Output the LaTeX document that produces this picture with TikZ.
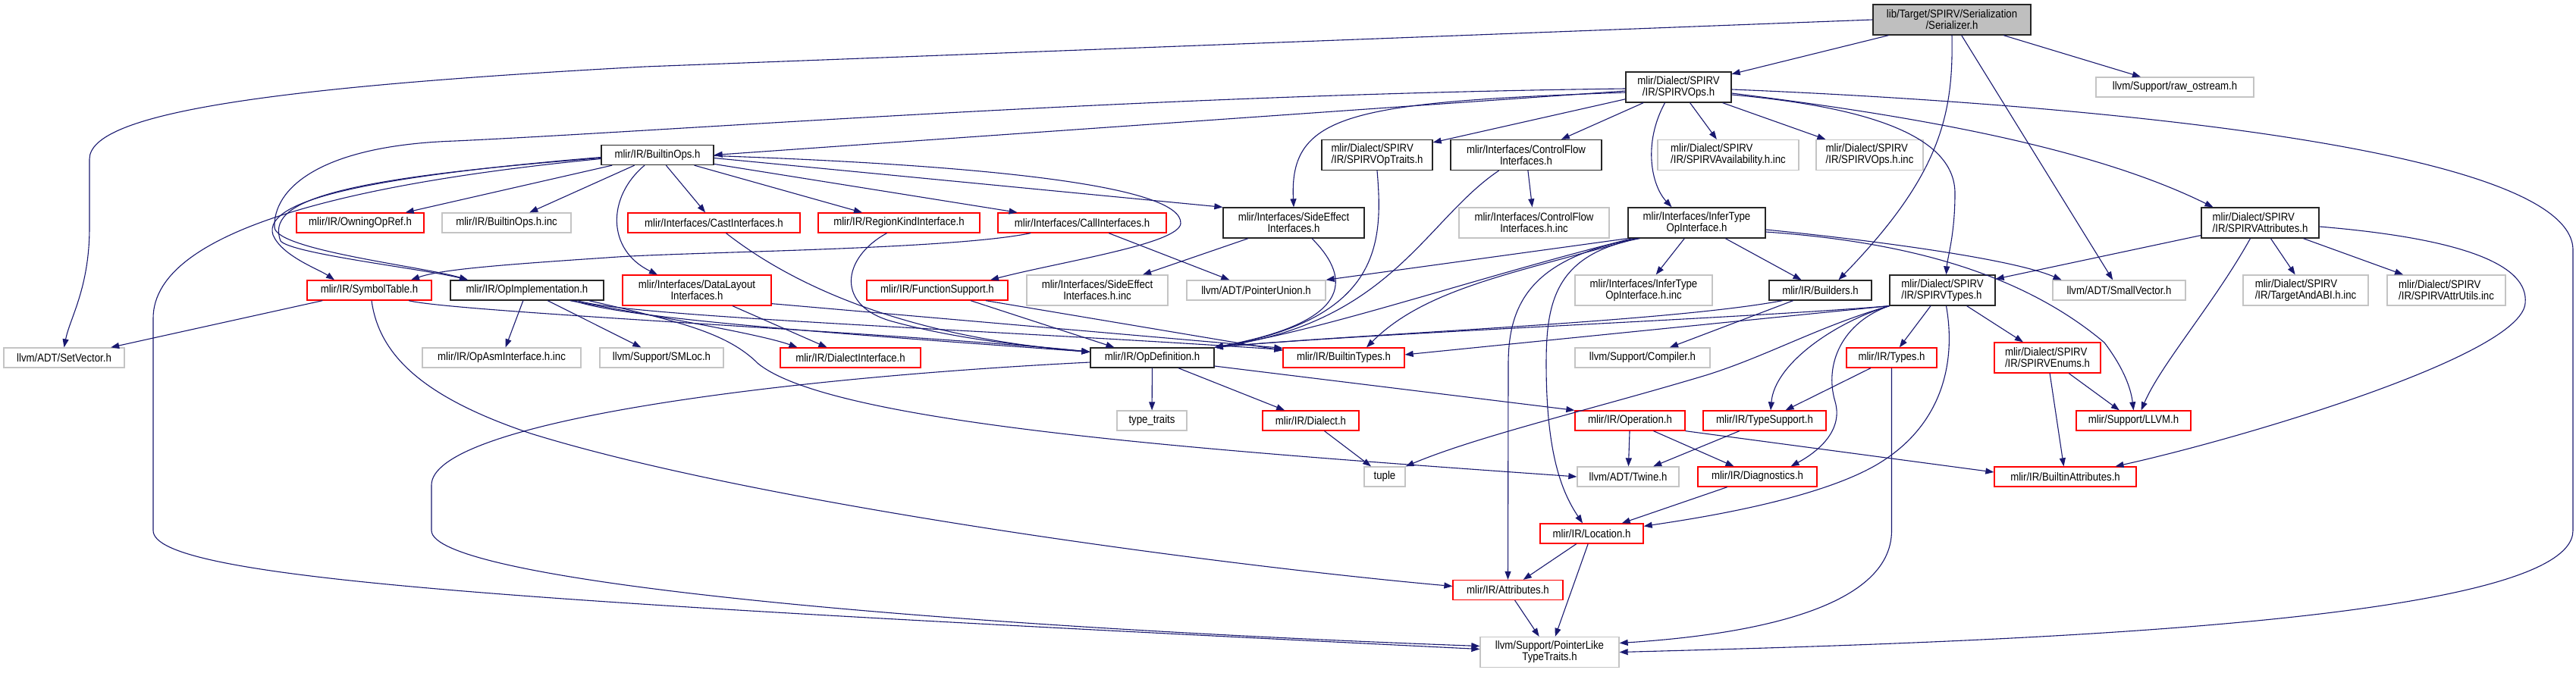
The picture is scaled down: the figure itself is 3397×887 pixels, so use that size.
\documentclass[tikz,border=0pt]{standalone}
\usepackage{fontspec}
\setmainfont{Liberation Sans}[FakeStretch=0.88]
\usetikzlibrary{arrows.meta}
\definecolor{edgeblue}{HTML}{191970}
\definecolor{rootgray}{HTML}{BFBFBF}
\definecolor{extgray}{HTML}{C4C4C4}
\newcommand{\hdrsize}{\fontsize{15}{15.2}\selectfont}

\begin{document}
\begin{tikzpicture}[x=1pt,y=-1pt,
  hfile/.style={draw,rectangle,inner sep=0pt,minimum height=26pt,align=center,font=\hdrsize,line width=1.3pt},
  tall/.style={minimum height=40pt},
  wd/.style={minimum width=#1pt},
  kfile/.style={hfile,draw=black!85},
  tfile/.style={hfile,draw=red},
  xfile/.style={hfile,draw=extgray},
  rootfile/.style={hfile,draw=black!85,fill=rootgray},
  incl/.style={draw=edgeblue,line width=1.1pt,-{Triangle[length=11pt,width=8pt]}}]
  \fill[white] (0,0) rectangle (3397,887);
  \useasboundingbox (0,0) rectangle (3397,887);

  \node[rootfile,tall,wd=208] (ser) at (2574,26) {lib/Target/SPIRV/Serialization\\/Serializer.h};
  \node[kfile,tall,wd=139] (ops) at (2213.5,115) {mlir/Dialect/SPIRV\\/IR/SPIRVOps.h};
  \node[xfile,wd=208] (raw) at (2868,115) {llvm/Support/raw\_ostream.h};
  \node[kfile,wd=148] (bops) at (867,204.5) {mlir/IR/BuiltinOps.h};
  \node[kfile,tall,wd=146,align=left] (traits) at (1816,204.5) {mlir/Dialect/SPIRV\\/IR/SPIRVOpTraits.h};
  \node[kfile,tall,wd=199] (cf) at (2012.5,204.5) {mlir/Interfaces/ControlFlow\\Interfaces.h};
  \node[xfile,tall,wd=186,align=left] (avail) at (2279,204.5) {mlir/Dialect/SPIRV\\/IR/SPIRVAvailability.h.inc};
  \node[xfile,tall,wd=141,align=left] (opsinc) at (2465.5,204.5) {mlir/Dialect/SPIRV\\/IR/SPIRVOps.h.inc};
  \node[tfile,wd=168] (owning) at (475,294) {mlir/IR/OwningOpRef.h};
  \node[xfile,wd=170] (bopsinc) at (668,294) {mlir/IR/BuiltinOps.h.inc};
  \node[tfile,wd=227] (cast) at (941.5,294) {mlir/Interfaces/CastInterfaces.h};
  \node[tfile,wd=213] (rk) at (1185.5,294) {mlir/IR/RegionKindInterface.h};
  \node[tfile,wd=222] (call) at (1427,294) {mlir/Interfaces/CallInterfaces.h};
  \node[kfile,tall,wd=186] (se) at (1706,294) {mlir/Interfaces/SideEffect\\Interfaces.h};
  \node[xfile,tall,wd=198] (cfinc) at (2023,294) {mlir/Interfaces/ControlFlow\\Interfaces.h.inc};
  \node[kfile,tall,wd=181] (inf) at (2237.5,294) {mlir/Interfaces/InferType\\OpInterface.h};
  \node[kfile,tall,wd=155,align=left] (spa) at (2980.5,294) {mlir/Dialect/SPIRV\\/IR/SPIRVAttributes.h};
  \node[tfile,wd=164] (st) at (487,383) {mlir/IR/SymbolTable.h};
  \node[kfile,wd=202] (oi) at (695,383) {mlir/IR/OpImplementation.h};
  \node[tfile,tall,wd=196] (dl) at (919,383) {mlir/Interfaces/DataLayout\\Interfaces.h};
  \node[tfile,wd=186] (fs) at (1236,383) {mlir/IR/FunctionSupport.h};
  \node[xfile,tall,wd=186] (seinc) at (1447,383) {mlir/Interfaces/SideEffect\\Interfaces.h.inc};
  \node[xfile,wd=183] (pu) at (1656.5,383) {llvm/ADT/PointerUnion.h};
  \node[xfile,tall,wd=181] (infinc) at (2167.5,383) {mlir/Interfaces/InferType\\OpInterface.h.inc};
  \node[kfile,wd=135] (bld) at (2400.5,383) {mlir/IR/Builders.h};
  \node[kfile,tall,wd=139,align=left] (spt) at (2561.5,383) {mlir/Dialect/SPIRV\\/IR/SPIRVTypes.h};
  \node[xfile,wd=175] (sv) at (2794.5,383) {llvm/ADT/SmallVector.h};
  \node[xfile,tall,wd=165,align=left] (abi) at (3040.5,383) {mlir/Dialect/SPIRV\\/IR/TargetAndABI.h.inc};
  \node[xfile,tall,wd=156,align=left] (autils) at (3226,383) {mlir/Dialect/SPIRV\\/IR/SPIRVAttrUtils.inc};
  \node[xfile,wd=159] (setv) at (84.5,472) {llvm/ADT/SetVector.h};
  \node[xfile,wd=209] (asminc) at (661.5,472) {mlir/IR/OpAsmInterface.h.inc};
  \node[xfile,wd=163] (smloc) at (872.5,472) {llvm/Support/SMLoc.h};
  \node[tfile,wd=185] (di) at (1121.5,472) {mlir/IR/DialectInterface.h};
  \node[kfile,wd=163] (od) at (1519.5,472) {mlir/IR/OpDefinition.h};
  \node[tfile,wd=160] (bt) at (1772,472) {mlir/IR/BuiltinTypes.h};
  \node[xfile,wd=178] (comp) at (2166,472) {llvm/Support/Compiler.h};
  \node[tfile,wd=119] (ty) at (2494.5,472) {mlir/IR/Types.h};
  \node[tfile,tall,wd=140,align=left] (enums) at (2700,472) {mlir/Dialect/SPIRV\\/IR/SPIRVEnums.h};
  \node[xfile,wd=92] (tt) at (1519,555) {type\_traits};
  \node[tfile,wd=127] (dia) at (1728.5,555) {mlir/IR/Dialect.h};
  \node[tfile,wd=145] (op) at (2149.5,555) {mlir/IR/Operation.h};
  \node[tfile,wd=162] (ts) at (2327,555) {mlir/IR/TypeSupport.h};
  \node[tfile,wd=151] (llvm) at (2813.5,555) {mlir/Support/LLVM.h};
  \node[xfile,wd=54] (tp) at (1826,629) {tuple};
  \node[xfile,wd=134] (tw) at (2147,629) {llvm/ADT/Twine.h};
  \node[tfile,wd=157] (dg) at (2317.5,629) {mlir/IR/Diagnostics.h};
  \node[tfile,wd=187] (ba) at (2723.5,629) {mlir/IR/BuiltinAttributes.h};
  \node[tfile,wd=136] (loc) at (2099,704) {mlir/IR/Location.h};
  \node[tfile,wd=145] (att) at (1988.5,778.5) {mlir/IR/Attributes.h};
  \node[xfile,tall,wd=183] (plt) at (2043.5,860.5) {llvm/Support/PointerLike\\TypeTraits.h};

  \draw[incl] (ser) -- (ops);
  \draw[incl] (ser) -- (raw);
  \draw[incl] (ser) -- (sv);
  \draw[incl] (ser.west) -- (850,88) .. controls (350,115) and (118,150) .. (118,210) -- (118,300) .. controls (118,380) and (92,420) .. (setv.north);
  \draw[incl] (ser.south) .. controls (2576,150) and (2560,230) .. ([xshift=24pt]bld.north);

  \draw[incl] (ops) -- (traits);
  \draw[incl] (ops) -- (cf);
  \draw[incl] (ops) -- (avail);
  \draw[incl] (ops) -- (opsinc);
  \draw[incl] ([xshift=-18pt]ops.south) .. controls (2166,190) and (2178,245) .. ([xshift=-33pt]inf.north);
  \draw[incl] ([yshift=-7pt]ops.west) .. controls (1780,135) and (1700,150) .. (se.north);
  \draw[incl] ([yshift=-5pt]ops.west) -- (bops.east);
  \draw[incl] ([yshift=-2pt]ops.west) .. controls (1500,125) and (900,172) .. (600,186) .. controls (420,192) and (360,250) .. (362,300) .. controls (364,330) and (560,352) .. ([xshift=-78pt]oi.north);
  \draw[incl] ([yshift=-10pt]ops.east) .. controls (2450,140) and (2578,175) .. (2578,255) .. controls (2578,310) and (2568,340) .. ([xshift=5pt]spt.north);
  \draw[incl] ([yshift=-8pt]ops.east) .. controls (2500,150) and (2750,190) .. ([xshift=-62pt]spa.north);
  \draw[incl] ([yshift=-3pt]ops.east) .. controls (2700,135) and (3393,190) .. (3393,330) -- (3393,700) .. controls (3393,825) and (2600,848) .. (plt.east);

  \draw[incl] (bops) -- (owning);
  \draw[incl] (bops) -- (bopsinc);
  \draw[incl] (bops) -- (cast);
  \draw[incl] (bops) -- (rk);
  \draw[incl] (bops) -- (call);
  \draw[incl] ([yshift=-4pt]bops.east) -- (se.north west);
  \draw[incl] ([yshift=-1pt]bops.east) .. controls (1300,218) and (1560,245) .. (1557,295) .. controls (1554,322) and (1400,345) .. ([xshift=70pt]fs.north);
  \draw[incl] ([xshift=-17pt]bops.south) .. controls (800,260) and (800,330) .. ([xshift=-52pt]dl.north);
  \draw[incl] ([yshift=-3pt]bops.west) .. controls (500,232) and (345,262) .. (360,310) .. controls (372,338) and (420,355) .. ([xshift=-46pt]st.north);
  \draw[incl] ([yshift=-4pt]bops.west) .. controls (440,236) and (350,265) .. (370,318) .. controls (385,335) and (560,355) .. ([xshift=-78pt]oi.north);
  \draw[incl] ([yshift=-5pt]bops.west) .. controls (480,240) and (202,300) .. (202,420) -- (202,700) .. controls (202,765) and (700,795) .. ([yshift=4pt]plt.west);

  \draw[incl] (traits.south) .. controls (1824,320) and (1822,420) .. (od.north east);
  \draw[incl] (cf) -- (cfinc);
  \draw[incl] ([xshift=-36pt]cf.south) .. controls (1880,290) and (1835,425) .. (od.north east);
  \draw[incl] (se) -- (seinc);
  \draw[incl] ([xshift=24pt]se.south) .. controls (1785,370) and (1780,425) .. (od.north east);

  \draw[incl] (inf) -- (infinc);
  \draw[incl] (inf) -- (bld);
  \draw[incl] (inf.south west) -- (pu.north east);
  \draw[incl] ([xshift=-85pt]inf.south) .. controls (1950,365) and (1750,435) .. (od.north east);
  \draw[incl] ([xshift=-80pt]inf.south) .. controls (2000,360) and (1880,380) .. ([xshift=30pt]bt.north);
  \draw[incl] ([xshift=-78pt]inf.south) .. controls (2020,340) and (1989,400) .. (1989,480) -- (att.north);
  \draw[incl] ([xshift=-75pt]inf.south) .. controls (2050,335) and (2039,400) .. (2039,480) .. controls (2039,600) and (2060,650) .. ([xshift=-12pt]loc.north);
  \draw[incl] ([yshift=-9pt]inf.east) .. controls (2450,315) and (2650,340) .. ([xshift=-76pt]sv.north);
  \draw[incl] ([yshift=-12pt]inf.east) .. controls (2500,318) and (2660,355) .. (2775,452) .. controls (2800,485) and (2810,512) .. (llvm.north);

  \draw[incl] ([xshift=-68pt]call.south) .. controls (1250,330) and (900,332) .. (800,340) .. controls (650,350) and (580,356) .. ([xshift=55pt]st.north);
  \draw[incl] (call) -- (pu);
  \draw[incl] ([xshift=16pt]cast.south) .. controls (1050,380) and (1200,445) .. ([yshift=-6pt]od.north west);
  \draw[incl] ([xshift=-16pt]rk.south) .. controls (1110,340) and (1100,405) .. (1180,425) .. controls (1280,452) and (1380,458) .. ([yshift=-6pt]od.north west);
  \draw[incl] ([xshift=44pt]fs.south) -- ([xshift=-50pt]od.north);
  \draw[incl] ([xshift=64pt]fs.south) -- ([yshift=-4pt]bt.north west);
  \draw[incl] (dl) -- (di);
  \draw[incl] ([yshift=3pt]dl.south east) -- ([yshift=-1pt]bt.north west);

  \draw[incl] (oi) -- (asminc);
  \draw[incl] (oi) -- (smloc);
  \draw[incl] ([xshift=-45pt]oi.south east) .. controls (850,415) and (1000,440) .. ([xshift=-70pt]di.north);
  \draw[incl] ([xshift=-40pt]oi.south east) .. controls (820,420) and (1100,440) .. ([yshift=-6pt]od.north west);
  \draw[incl] ([xshift=-35pt]oi.south east) .. controls (830,418) and (1300,435) .. ([yshift=-3pt]bt.north west);
  \draw[incl] ([xshift=-20pt]oi.south east) .. controls (900,425) and (960,440) .. (1000,480) .. controls (1100,560) and (1600,595) .. (tw.west);

  \draw[incl] (st) -- (setv);
  \draw[incl] ([xshift=52pt]st.south) .. controls (600,412) and (1200,440) .. ([yshift=-6pt]od.north west);
  \draw[incl] ([xshift=3pt]st.south) .. controls (500,470) and (560,525) .. (700,572) .. controls (1000,665) and (1600,745) .. ([yshift=5pt]att.west);

  \draw[incl] (bld) -- (comp);
  \draw[incl] ([xshift=-50pt]bld.south) .. controls (2200,425) and (1800,440) .. (od.north east);

  \draw[incl] (spt.south west) .. controls (2300,420) and (1800,440) .. (od.north east);
  \draw[incl] (spt.south west) -- ([yshift=4pt]bt.east);
  \draw[incl] (spt.south west) .. controls (2400,430) and (2330,470) .. (2250,495) .. controls (2100,540) and (1950,575) .. (tp.north east);
  \draw[incl] (spt.south west) .. controls (2420,425) and (2340,480) .. ([xshift=8pt]ts.north);
  \draw[incl] (spt.south west) .. controls (2430,425) and (2405,480) .. (2420,530) .. controls (2432,572) and (2390,600) .. ([xshift=44pt]dg.north);
  \draw[incl] (spt) -- (ty);
  \draw[incl] ([xshift=5pt]spt.south) .. controls (2580,480) and (2560,560) .. (2480,610) .. controls (2400,660) and (2230,685) .. ([yshift=-4pt]loc.north east);
  \draw[incl] (spt) -- (enums);

  \draw[incl] (spa) -- (spt);
  \draw[incl] (spa) -- (abi);
  \draw[incl] (spa) -- (autils);
  \draw[incl] ([xshift=-13pt]spa.south) .. controls (2920,400) and (2850,480) .. ([xshift=10pt]llvm.north);
  \draw[incl] ([yshift=-5pt]spa.east) .. controls (3250,315) and (3335,350) .. (3330,400) .. controls (3325,470) and (2950,580) .. ([xshift=66pt]ba.north);

  \draw[incl] (od) -- (tt);
  \draw[incl] (od) -- (dia);
  \draw[incl] ([yshift=-11pt]od.east) -- (op.north west);
  \draw[incl] ([yshift=-6pt]od.west) .. controls (1000,500) and (569,560) .. (569,640) -- (569,700) .. controls (569,765) and (1200,825) .. ([yshift=8pt]plt.west);

  \draw[incl] (dia) -- (tp);
  \draw[incl] (op) -- (tw);
  \draw[incl] (op) -- (dg);
  \draw[incl] (op.south east) -- ([yshift=6pt]ba.west);
  \draw[incl] (ts) -- (tw);
  \draw[incl] (ty) -- (ts);
  \draw[incl] (ty.south) -- (2494.5,700) .. controls (2494.5,805) and (2300,838) .. ([yshift=12pt]plt.east);
  \draw[incl] (dg) -- (loc);
  \draw[incl] (loc) -- (att);
  \draw[incl] (loc) -- (plt);
  \draw[incl] (att) -- (plt);
  \draw[incl] (enums) -- (llvm);
  \draw[incl] (enums) -- (ba);
\end{tikzpicture}
\end{document}
